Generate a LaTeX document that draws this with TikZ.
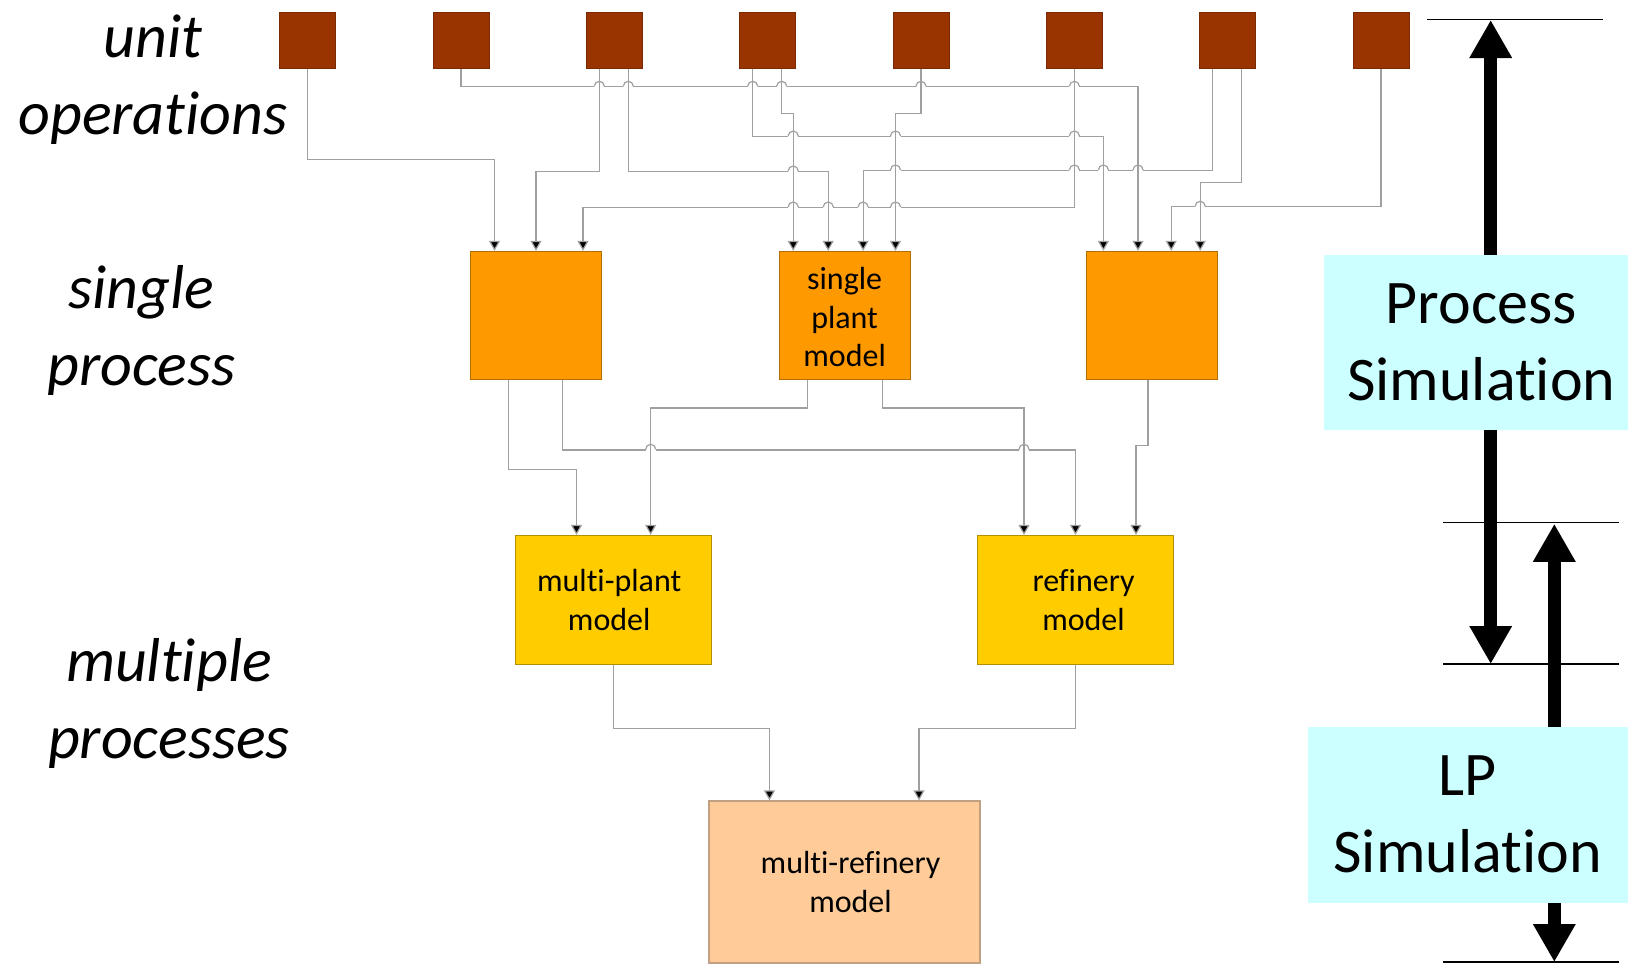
\documentclass[tikz,border=0pt]{standalone}
\usepackage{fontspec}
\setmainfont{Carlito}[Ligatures={NoCommon}]
\usepackage{xcolor}
\usetikzlibrary{arrows.meta,calc}

\definecolor{unitfill}{HTML}{993300}
\definecolor{unitline}{HTML}{7A2900}
\definecolor{procfill}{HTML}{FF9900}
\definecolor{procline}{HTML}{B56C00}
\definecolor{plantfill}{HTML}{FFCC00}
\definecolor{plantline}{HTML}{B39000}
\definecolor{multifill}{HTML}{FFCC99}
\definecolor{multiline}{HTML}{C0A080}
\definecolor{simfill}{HTML}{CCFFFF}
\definecolor{conngray}{HTML}{A0A0A0}

% line jump of a horizontal connector over a vertical one
\newcommand{\hop}[2]{%
  \fill[white] (#1-5,#2-1.6) rectangle (#1+5,#2+1.6);
  \draw[conn,-] (#1,#2-3) -- (#1,#2+3);
  \draw[conn,-] (#1-5,#2) arc (180:0:5pt);
}

\tikzset{
  conn/.style={conngray, line width=1.2pt, -{Triangle[length=10pt,width=11pt,fill=black]}},
  unitop/.style={draw=unitline, fill=unitfill, line width=1pt, minimum width=56pt, minimum height=56pt, inner sep=0pt},
  procbox/.style={draw=procline, fill=procfill, line width=1.2pt, minimum width=131pt, minimum height=128pt, inner sep=0pt, align=center, font=\fontsize{32}{38.5}\selectfont},
  plantbox/.style={draw=plantline, fill=plantfill, line width=1.2pt, minimum width=196pt, minimum height=129pt, inner sep=0pt, align=center, font=\fontsize{32}{38.5}\selectfont},
  multibox/.style={draw=multiline, fill=multifill, line width=1.2pt, minimum width=271pt, minimum height=162pt, inner sep=0pt, align=center, font=\fontsize{32}{38.5}\selectfont},
  simbox/.style={fill=simfill, inner sep=0pt, align=center, font=\fontsize{62}{77}\selectfont},
  sidelabel/.style={align=center, inner sep=0pt, font=\itshape\fontsize{62}{77}\selectfont},
  bigarrow/.style={line width=13pt, {Triangle[length=38pt,width=40pt]}-{Triangle[length=38pt,width=40pt]}},
  levelline/.style={black, line width=1.5pt}
}

\begin{document}
\begin{tikzpicture}[x=1pt,y=-1pt]
\clip (0,0) rectangle (1629,964);

% level labels
\node[sidelabel] (lunit) at (153,80) {unit\\operations};
\node[sidelabel] (lsingle) at (141.5,330) {single\\process};
\node[sidelabel] (lmulti) at (169,703) {multiple\\processes};

% unit operations
\node[unitop] (u1) at (307.6,40) {};
\node[unitop] (u2) at (461,40) {};
\node[unitop] (u3) at (614.3,40) {};
\node[unitop] (u4) at (767.7,40) {};
\node[unitop] (u5) at (921,40) {};
\node[unitop] (u6) at (1074.4,40) {};
\node[unitop] (u7) at (1227.7,40) {};
\node[unitop] (u8) at (1381,40) {};

% single process
\node[procbox] (p1) at (536,315.4) {};
\node[procbox] (p2) at (844.6,315.4) {\rule{0pt}{26pt}single\\plant\\model};
\node[procbox] (p3) at (1152,315.4) {};

% multiple processes
\node[plantbox] (mp) at (613.7,600) {multi-plant\hspace*{9pt}\\model\hspace*{9pt}};
\node[plantbox] (rf) at (1075.5,600) {\hspace*{16pt}refinery\\\hspace*{16pt}model};
\node[multibox] (mr) at (844.5,882) {\hspace*{12pt}multi-refinery\\\hspace*{12pt}model};

% unit operations -> single process
\draw[conn] (u1.south) -- ++(0,91.3) -| ([xshift=-41.5pt]p1.north);
\draw[conn] (u2.south) -- ++(0,18.3) -| ([xshift=-14pt]p3.north);
\draw[conn] ([xshift=-15pt]u3.south) -- ++(0,103) -| (p1.north);
\draw[conn] ([xshift=14pt]u3.south) -- ++(0,103) -| ([xshift=-16.4pt]p2.north);
\draw[conn] ([xshift=-15pt]u4.south) -- ++(0,68) -| ([xshift=-48.6pt]p3.north);
\draw[conn] ([xshift=14pt]u4.south) -- ++(0,45.3) -| ([xshift=-51.4pt]p2.north);
\draw[conn] (u5.south) -- ++(0,45.3) -| ([xshift=50.9pt]p2.north);
\draw[conn] (u6.south) -- ++(0,139) -| ([xshift=47pt]p1.north);
\draw[conn] ([xshift=-15pt]u7.south) -- ++(0,102) -| ([xshift=18.5pt]p2.north);
\draw[conn] ([xshift=14pt]u7.south) -- ++(0,114.3) -| ([xshift=48.2pt]p3.north);
\draw[conn] (u8.south) -- ++(0,138.3) -| ([xshift=19.2pt]p3.north);

% single process -> multiple processes
\draw[conn] ([xshift=-27.7pt]p1.south) -- ++(0,89.7) -| ([xshift=-37.2pt]mp.north);
\draw[conn] ([xshift=26.5pt]p1.south) -- ++(0,70) -| (rf.north);
\draw[conn] ([xshift=-37.4pt]p2.south) -- ++(0,28) -| ([xshift=37pt]mp.north);
\draw[conn] ([xshift=37.9pt]p2.south) -- ++(0,28) -| ([xshift=-51.5pt]rf.north);
\draw[conn] ([xshift=-4pt]p3.south) -- ++(0,65.7) -| ([xshift=60.5pt]rf.north);
\draw[conn] (mp.south) -- ++(0,63.3) -| ([xshift=-75pt]mr.north);
\draw[conn] (rf.south) -- ++(0,63.3) -| ([xshift=74.5pt]mr.north);

% line jumps
\hop{599.3}{86.3} \hop{628.3}{86.3} \hop{752.7}{86.3} \hop{781.7}{86.3} \hop{921}{86.3} \hop{1074.4}{86.3}
\hop{793.2}{136} \hop{895.5}{136} \hop{1074.4}{136}
\hop{793.2}{171}
\hop{1138}{170} \hop{1103.4}{170} \hop{1074.4}{170} \hop{895.5}{170}
\hop{895.5}{207} \hop{863.1}{207} \hop{828.2}{207} \hop{793.2}{207}
\hop{1200.2}{206.3}
\hop{650.7}{449.3} \hop{1024}{449.3}

% simulation ranges
\coordinate (pstop) at (1490.7,20);
\coordinate (psbot) at (1490.7,664);
\coordinate (lptop) at (1554.3,523.8);
\coordinate (lpbot) at (1554.3,962);
\draw[bigarrow] (psbot) -- (pstop);
\draw[bigarrow] (lptop) -- (lpbot);
\node[simbox, minimum width=304pt, minimum height=175pt] (pssim) at (1476.3,342.5) {\hspace*{10pt}Process\\\hspace*{10pt}Simulation};
\node[simbox, minimum width=320pt, minimum height=175.5pt] (lpsim) at (1467.7,814.8) {LP\\Simulation};
\draw[levelline] (1427,19.7) -- (1602.7,19.7);
\draw[levelline] (1443,522.6) -- (1619,522.6);
\draw[levelline] (1443,664) -- (1619,664);
\draw[levelline] (1443,962) -- (1619,962);
\end{tikzpicture}
\end{document}
